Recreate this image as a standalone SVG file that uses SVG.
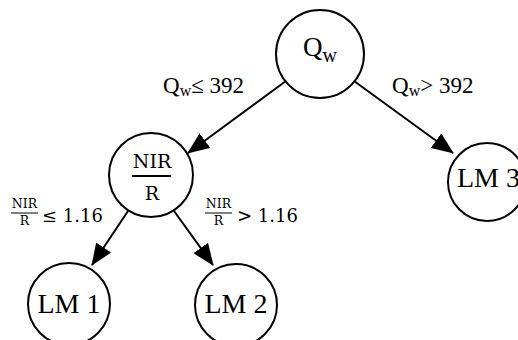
<svg xmlns="http://www.w3.org/2000/svg" width="518" height="340" viewBox="0 0 518 340">
<defs>
<style>
.node{fill:#fff;stroke:#000;stroke-width:2}
.t{font-family:"Liberation Serif","Times New Roman",serif;fill:#000}
.m{font-family:"DejaVu Serif","Liberation Serif",serif;fill:#000}
.edge{stroke:#000;stroke-width:2;fill:none;marker-end:url(#arr)}
</style>
<marker id="arr" viewBox="0 0 22 18" refX="21" refY="9" markerWidth="22" markerHeight="18" markerUnits="userSpaceOnUse" orient="auto">
<path d="M0,0 L22,9 L0,18 Z" fill="#000"/>
</marker>
</defs>
<rect width="518" height="340" fill="#fff"/>
<g id="edges">
<line class="edge" x1="286" y1="81" x2="188" y2="153"/>
<line class="edge" x1="354" y1="81" x2="453" y2="153"/>
<line class="edge" x1="128" y1="211" x2="92" y2="265"/>
<line class="edge" x1="174" y1="211" x2="213" y2="265"/>
</g>
<g id="labels">
<text class="t" x="163" y="93" font-size="23">Q<tspan font-size="16" dy="3">w</tspan><tspan dy="-3">≤ 392</tspan></text>
<text class="t" x="392" y="93" font-size="23">Q<tspan font-size="16" dy="3">w</tspan><tspan dy="-3">&gt; 392</tspan></text>
<g id="lbl-left">
<text class="m" x="24.5" y="208" font-size="12.5" text-anchor="middle">NIR</text>
<line x1="11" y1="213" x2="38" y2="213" stroke="#000" stroke-width="1"/>
<text class="m" x="24.5" y="225" font-size="12.5" text-anchor="middle">R</text>
<text class="m" x="42" y="222" font-size="18">≤ 1.16</text>
</g>
<g id="lbl-right">
<text class="m" x="218.5" y="208" font-size="12.5" text-anchor="middle">NIR</text>
<line x1="205" y1="213" x2="232" y2="213" stroke="#000" stroke-width="1"/>
<text class="m" x="218.5" y="225" font-size="12.5" text-anchor="middle">R</text>
<text class="m" x="237" y="222" font-size="18">&gt; 1.16</text>
</g>
</g>
<g id="root">
<circle class="node" cx="320" cy="54" r="44"/>
<text class="t" x="303" y="56" font-size="27">Q<tspan font-size="20" dy="6">w</tspan></text>
</g>
<g id="nir">
<circle class="node" cx="151" cy="175" r="42"/>
<text class="m" x="152" y="168" font-size="19" text-anchor="middle">NIR</text>
<line x1="132" y1="176" x2="171" y2="176" stroke="#000" stroke-width="2"/>
<text class="m" x="152" y="200" font-size="19" text-anchor="middle">R</text>
</g>
<g id="lm1">
<circle class="node" cx="69" cy="304" r="41"/>
<text class="t" x="69" y="313" font-size="28" text-anchor="middle">LM 1</text>
</g>
<g id="lm2">
<circle class="node" cx="236" cy="305" r="41"/>
<text class="t" x="236" y="313" font-size="28" text-anchor="middle">LM 2</text>
</g>
<g id="lm3">
<circle class="node" cx="487" cy="182" r="39"/>
<text class="t" x="457" y="187" font-size="28">LM 3</text>
</g>
</svg>
